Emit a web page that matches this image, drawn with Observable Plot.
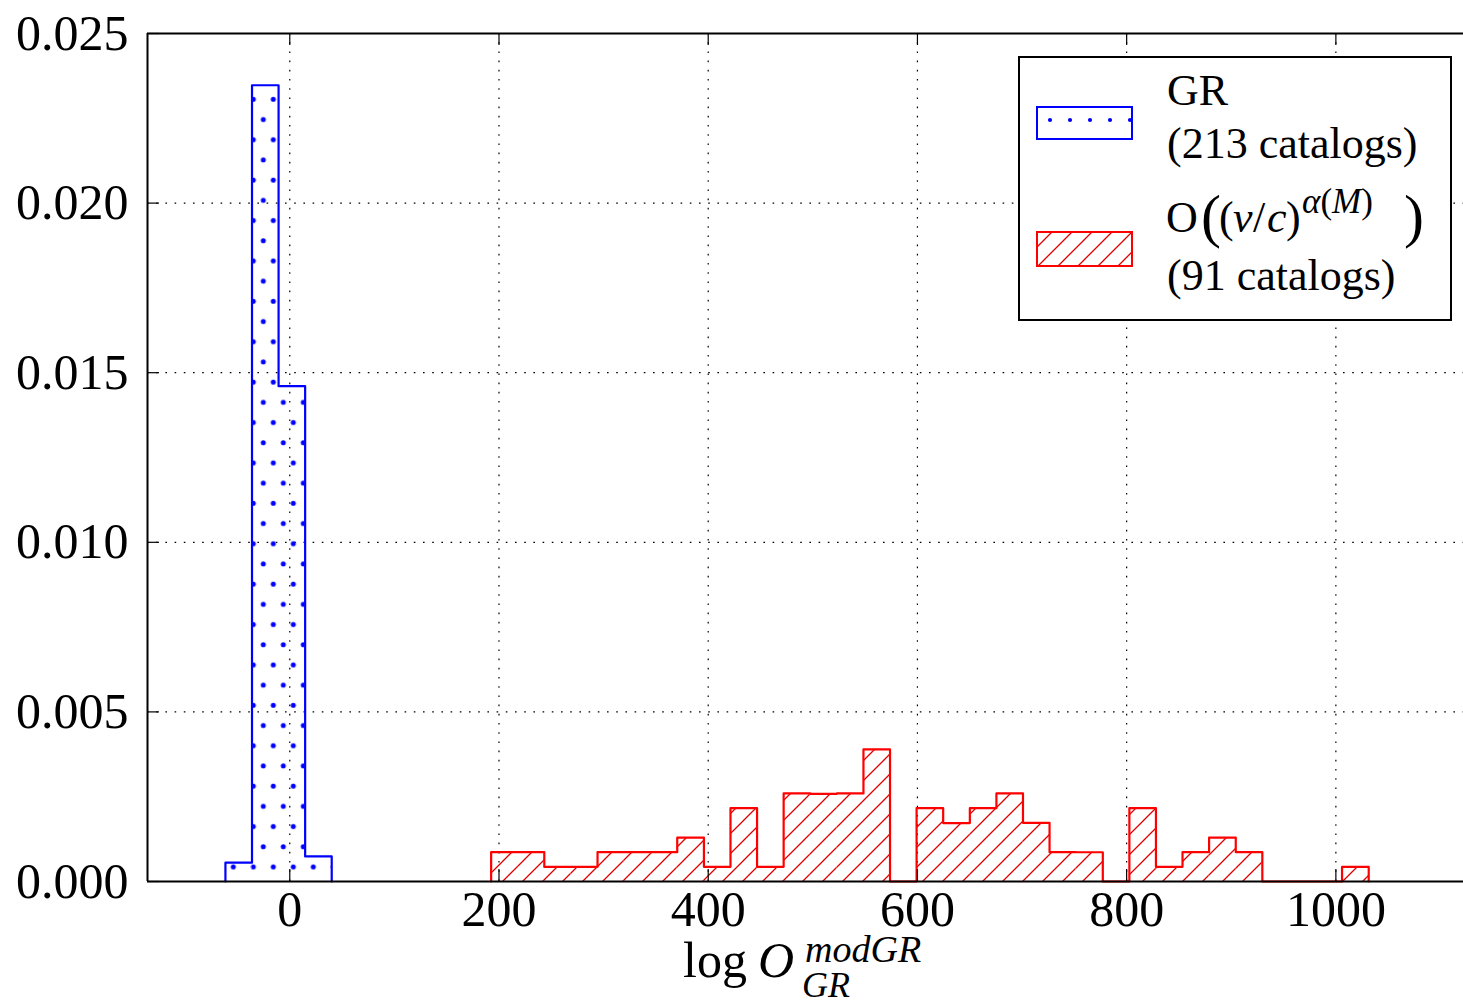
<!DOCTYPE html>
<html><head><meta charset="utf-8">
<script src="https://cdn.jsdelivr.net/npm/d3@7"></script>
<script src="https://cdn.jsdelivr.net/npm/@observablehq/plot@0.6"></script>
<style>body{margin:0;background:#fff} #chart{position:relative;width:1463px;height:1002px}</style>
</head><body><div id="chart"></div>
<script>
// ---- data ----
const xDomain = [-136, 1122];
const yDomain = [0, 0.025];
const xTicks = [0, 200, 400, 600, 800, 1000];
const yTicks = [0, 0.005, 0.010, 0.015, 0.020, 0.025];
const yTickLabels = ["0.000", "0.005", "0.010", "0.015", "0.020", "0.025"];

const grLabel = "GR";
const grCatalogs = 213;
const grEdges = [-61.5, -36.1, -10.7, 14.7, 40.1];
const grCounts = [3, 127, 79, 4];

const modCatalogs = 91;
const modEdges = [192.5, 217.9, 243.3, 268.8, 294.2, 319.6, 345.0, 370.4, 395.9, 421.3, 446.7,
  472.1, 497.5, 523.0, 548.4, 573.8, 599.2, 624.6, 650.1, 675.5, 700.9, 726.3, 751.7, 777.2,
  802.6, 828.0, 853.4, 878.8, 904.3, 929.7, 955.1, 980.5, 1005.9, 1031.4];
const modCounts = [2, 2, 1, 1, 2, 2, 2, 3, 1, 5, 1, 6, 6, 6, 9, 0, 5, 4, 5, 6, 4, 2, 2, 0, 5, 1, 2, 3, 2, 0, 0, 0, 1];

// ---- derived tables ----
function toBins(edges, counts, n) {
  return counts.map((c, i) => ({x1: edges[i], x2: edges[i + 1], density: c / (n * (edges[i + 1] - edges[i]))}));
}
function outline(bins) {
  const pts = [{x: bins[0].x1, y: 0}];
  bins.forEach(b => { pts.push({x: b.x1, y: b.density}); pts.push({x: b.x2, y: b.density}); });
  pts.push({x: bins[bins.length - 1].x2, y: 0});
  return pts;
}
const grBins = toBins(grEdges, grCounts, grCatalogs);
const modBins = toBins(modEdges, modCounts, modCatalogs);

const W = 1463, H = 1002, mL = 147, mR = 0, mT = 33, mB = 121;
const plotH = H - mT - mB, plotW = W - mL - mR;
const FONT = "'Liberation Serif', 'Times New Roman', serif";
const gridStyle = {stroke: "#000", strokeWidth: 1.2, strokeDasharray: "1.6,7.6"};

const chart = Plot.plot({
  width: W, height: H,
  marginLeft: mL, marginRight: mR, marginTop: mT, marginBottom: mB,
  x: {domain: xDomain}, y: {domain: yDomain},
  style: {fontFamily: FONT, fontSize: "50px", background: "white", overflow: "visible", color: "black"},
  marks: [
    Plot.ruleX(xTicks, {x: d => d, ...gridStyle}),
    Plot.ruleY(yTicks.slice(1, -1), {y: d => d, ...gridStyle}),
    Plot.rectY(grBins, {x1: "x1", x2: "x2", y: "density", fill: "url(#dots)"}),
    Plot.rectY(modBins, {x1: "x1", x2: "x2", y: "density", fill: "url(#hatch)"}),
    Plot.line(outline(grBins), {x: "x", y: "y", stroke: "#0000ff", strokeWidth: 2.2}),
    Plot.line(outline(modBins), {x: "x", y: "y", stroke: "#ff0000", strokeWidth: 2.2}),
    Plot.tickX(xTicks, {x: d => d, insetTop: plotH - 12, stroke: "black", strokeWidth: 1.2}),
    Plot.tickX(xTicks, {x: d => d, insetBottom: plotH - 12, stroke: "black", strokeWidth: 1.2}),
    Plot.tickY(yTicks, {y: d => d, insetRight: plotW - 12, stroke: "black", strokeWidth: 1.2}),
    Plot.ruleY([yDomain[0]], {y: d => d, stroke: "black", strokeWidth: 2}),
    Plot.ruleY([yDomain[1]], {y: d => d, stroke: "black", strokeWidth: 2}),
    Plot.ruleX([xDomain[0]], {x: d => d, stroke: "black", strokeWidth: 2}),
    Plot.axisX(xTicks, {tickSize: 0, tickPadding: 9, tickFormat: d => String(d), fontSize: 50, label: null}),
    Plot.axisY(yTicks, {tickSize: 0, tickPadding: 19, tickFormat: d => yTickLabels[yTicks.indexOf(d)], fontSize: 50, label: null})
  ]
});
document.getElementById("chart").appendChild(chart);

// ---- patterns, legend, axis label ----
const svg = d3.select(chart);
const defs = svg.insert("defs", ":first-child");
function dotPattern(id, w, h, r, tx, ty) {
  const p = defs.append("pattern").attr("id", id).attr("patternUnits", "userSpaceOnUse")
    .attr("width", w).attr("height", h).attr("patternTransform", `translate(${tx},${ty})`);
  [[w / 2, h / 4], [0, 3 * h / 4], [w, 3 * h / 4]].forEach(([cx, cy]) =>
    p.append("circle").attr("cx", cx).attr("cy", cy).attr("r", r).attr("fill", "#0000ff"));
}
dotPattern("dots", 20, 40.4, 2.5, 3.3, 8.4);
dotPattern("dotsLegend", 20, 40, 2.1, 0, 30);
const hp = defs.append("pattern").attr("id", "hatch").attr("patternUnits", "userSpaceOnUse")
  .attr("width", 20).attr("height", 20).attr("patternTransform", "translate(4,0)");
hp.append("path").attr("d", "M-5,5L5,-5M0,20L20,0M15,25L25,15")
  .attr("stroke", "#e00000").attr("stroke-width", 1.3).attr("fill", "none");

const lg = svg.append("g").attr("font-family", FONT).attr("fill", "black").attr("text-anchor", "start");
lg.append("rect").attr("x", 1019).attr("y", 57).attr("width", 432).attr("height", 263)
  .attr("fill", "white").attr("stroke", "black").attr("stroke-width", 2);
lg.append("rect").attr("x", 1037).attr("y", 107).attr("width", 95).attr("height", 32)
  .attr("fill", "url(#dotsLegend)").attr("stroke", "#0000ff").attr("stroke-width", 2);
lg.append("rect").attr("x", 1037).attr("y", 232).attr("width", 95).attr("height", 34)
  .attr("fill", "url(#hatch)").attr("stroke", "#ff0000").attr("stroke-width", 2);
lg.append("text").attr("x", 1167).attr("y", 105).attr("font-size", 44).text(grLabel);
lg.append("text").attr("x", 1167).attr("y", 158).attr("font-size", 44).text(`(${grCatalogs} catalogs)`);
const t2 = lg.append("text").attr("y", 232).attr("font-size", 44);
t2.append("tspan").attr("x", 1166).text("O");
t2.append("tspan").attr("x", 1201).attr("font-size", 60).attr("dy", 4).text("(");
t2.append("tspan").attr("x", 1219).attr("dy", -4).text("(");
t2.append("tspan").attr("x", 1233).attr("font-style", "italic").text("v");
t2.append("tspan").attr("x", 1253).text("/");
t2.append("tspan").attr("x", 1267).attr("font-style", "italic").text("c");
t2.append("tspan").attr("x", 1286).text(")");
t2.append("tspan").attr("x", 1302).attr("dy", -19).attr("font-size", 35).attr("font-style", "italic").text("α");
t2.append("tspan").attr("font-size", 35).text("(");
t2.append("tspan").attr("font-size", 35).attr("font-style", "italic").text("M");
t2.append("tspan").attr("font-size", 35).text(")");
t2.append("tspan").attr("x", 1404).attr("dy", 23).attr("font-size", 60).text(")");
lg.append("text").attr("x", 1167).attr("y", 290).attr("font-size", 44).text(`(${modCatalogs} catalogs)`);

const xl = svg.append("g").attr("font-family", FONT).attr("fill", "black").attr("text-anchor", "start");
xl.append("text").attr("x", 683).attr("y", 977).attr("font-size", 50).text("log");
xl.append("text").attr("x", 758).attr("y", 977).attr("font-size", 50).attr("font-style", "italic").text("O");
xl.append("text").attr("x", 805).attr("y", 962).attr("font-size", 38).attr("font-style", "italic").text("modGR");
xl.append("text").attr("x", 802).attr("y", 997).attr("font-size", 36).attr("font-style", "italic").text("GR");
</script></body></html>
